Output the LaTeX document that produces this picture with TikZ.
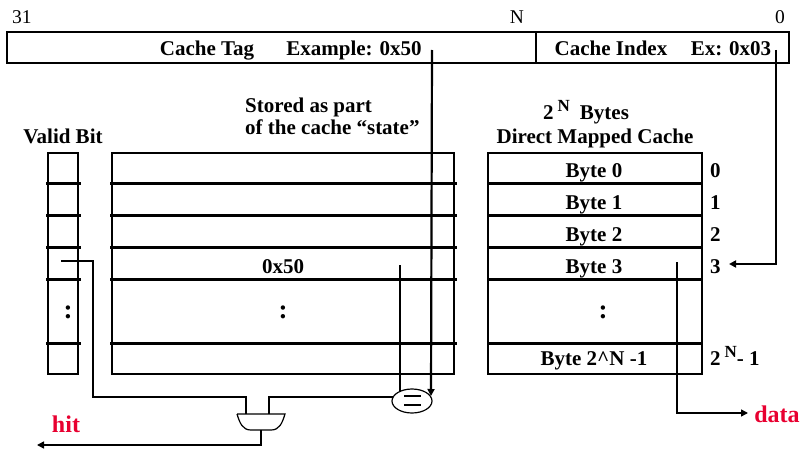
\documentclass[tikz,border=0pt]{standalone}
\usepackage{fontspec}
\setmainfont{Liberation Serif}
\usetikzlibrary{arrows.meta,shapes.geometric}
\definecolor{hitred}{RGB}{232,0,48}
\newcommand{\supN}{\raisebox{8pt}{\fontsize{17}{17}\selectfont N}}
\begin{document}
\begin{tikzpicture}[x=1pt,y=-1pt,
  box/.style={draw,line width=2.8pt},
  rowline/.style={line width=3pt},
  lbl/.style={font=\bfseries\fontsize{21}{24}\selectfont,inner sep=0pt,anchor=base},
  dots/.style={font=\bfseries\fontsize{27}{30}\selectfont,inner sep=0pt},
  num/.style={font=\fontsize{19.5}{22}\selectfont,inner sep=0pt,anchor=base},
  thinwire/.style={line width=1.1pt},
  wire/.style={line width=1.5pt},
  thickwire/.style={line width=2.2pt},
  tip/.style={-{Triangle[length=7pt,width=7pt]}},
  redlbl/.style={font=\bfseries\fontsize{24}{26}\selectfont,inner sep=0pt,text=hitred,anchor=base}]
\useasboundingbox (0,0) rectangle (801,452);

% address register
\draw[box] (7,32) rectangle (789,63);
\draw[box] (536,32) -- (536,63);
\node[num] (b31) at (22,24) {31};
\node[num] (bN) at (517,24) {N};
\node[num] (b0) at (780,24) {0};
\node[lbl] (tag) at (207,56) {Cache Tag};
\node[lbl] (tagex) at (354,56) {Example: 0x50};
\node[lbl] (idx) at (611,56) {Cache Index};
\node[lbl] (idxex) at (731,56) {Ex: 0x03};

% headings
\node[lbl] (valid) at (63,143) {Valid Bit};
\node[lbl,anchor=base west] (st1) at (245,112) {Stored as part};
\node[lbl,anchor=base west] (st2) at (245,134) {of the cache ``state''};
\node[lbl,anchor=base west] (bytes) at (543,119) {2\hspace{4pt}\supN\hspace{10pt}Bytes};
\node[lbl] (dmc) at (595,143) {Direct Mapped Cache};

% valid bit column
\draw[box] (48,153) rectangle (78,374);
\foreach \y in {183,215,247,279,343} \draw[rowline] (46,\y) -- (81,\y);
\node[dots] (vdots) at (68,312) {:};

% tag array
\draw[box] (112,153) rectangle (454,374);
\foreach \y in {183,215,247,279,343} \draw[rowline] (110,\y) -- (457,\y);
\node[lbl] (t50) at (283,273) {0x50};
\node[dots] (tdots) at (283,312) {:};

% data array
\draw[box] (488,153) rectangle (702,374);
\foreach \y in {183,215,247,279,343} \draw[rowline] (488,\y) -- (702,\y);
\node[lbl] (by0) at (594,177) {Byte 0};
\node[lbl] (by1) at (594,209) {Byte 1};
\node[lbl] (by2) at (594,241) {Byte 2};
\node[lbl] (by3) at (594,273) {Byte 3};
\node[dots] (ddots) at (603,312) {:};
\node[lbl] (byN) at (594,365) {Byte 2\^{}N -1};
\node[lbl,anchor=base west] (i0) at (710,177) {0};
\node[lbl,anchor=base west] (i1) at (710,209) {1};
\node[lbl,anchor=base west] (i2) at (710,241) {2};
\node[lbl,anchor=base west] (i3) at (710,273) {3};
\node[lbl,anchor=base west] (iN) at (710,365) {2\hspace{4pt}\supN- 1};

% comparator
\node[draw,ellipse,line width=1.2pt,minimum width=40pt,minimum height=24pt,inner sep=0pt] (eq) at (412,401) {};
\draw[line width=2pt] (404,396) -- (421,396) (404,405) -- (421,405);

% AND gate
\draw[line width=1.2pt] (237,414) -- (285,414) .. controls (282,424) and (279,430) .. (271,430)
  -- (251,430) .. controls (243,430) and (240,424) .. (237,414);
\coordinate (andA) at (246,414);
\coordinate (andB) at (269,414);
\coordinate (andOut) at (261,430);

% coordinates
\coordinate (tagsrc) at (432,50);
\coordinate (tagend) at (431,396);
\coordinate (idxsrc) at (776,50);
\coordinate (idxend) at (729,264);
\coordinate (tagrd) at (400,265);
\coordinate (eqtop) at (400,391);
\coordinate (eqleft) at (393,397);
\coordinate (vsrc) at (61,261);
\coordinate (hitend) at (37,445);
\coordinate (dsrc) at (677,262);
\coordinate (dend) at (748,413);

% wires
\draw[thickwire,tip] (tagsrc) -- (tagend);
\draw[thickwire,tip] (idxsrc) |- (idxend);
\draw[wire] (tagrd) -- (eqtop);
\draw[thinwire] (vsrc) -- (93,261) -- (93,397) -| (andA);
\draw[thinwire] (eqleft) -| (andB);
\draw[wire,tip] (andOut) |- (hitend);
\draw[wire,tip] (dsrc) |- (dend);

\node[redlbl] (hit) at (66,432) {hit};
\node[redlbl] (data) at (777,422) {data};
\end{tikzpicture}
\end{document}
